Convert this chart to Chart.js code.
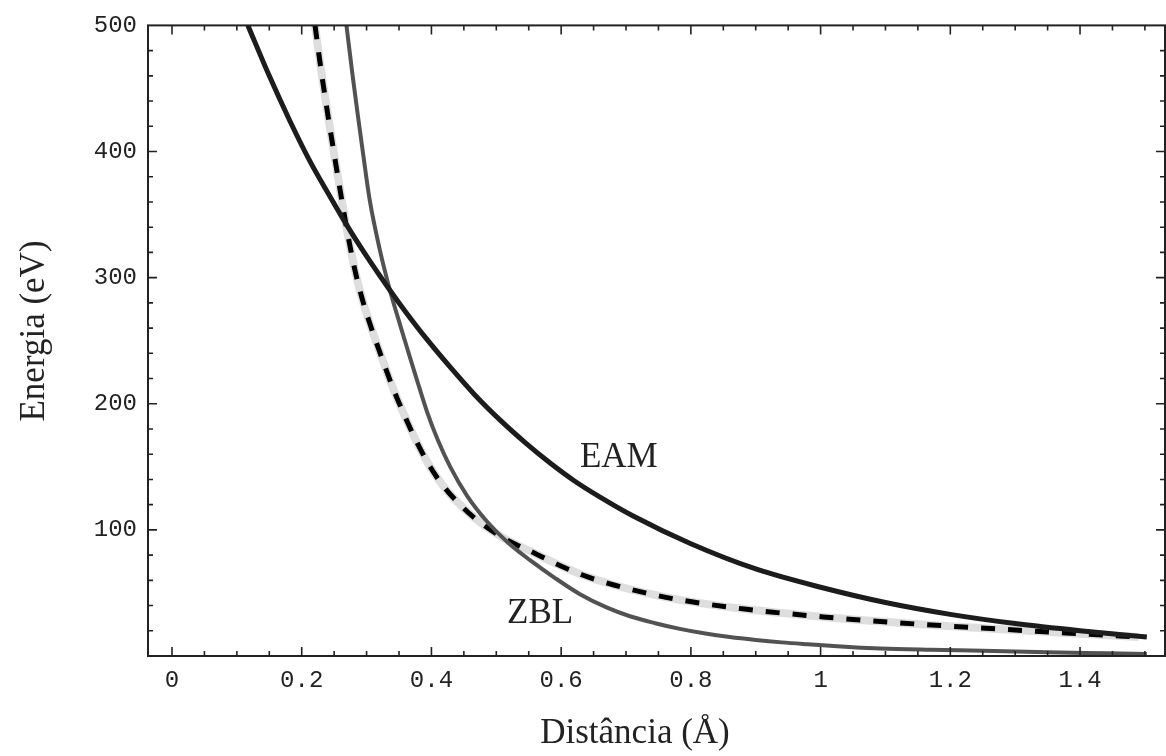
<!DOCTYPE html>
<html>
<head>
<meta charset="utf-8">
<script src="https://cdn.jsdelivr.net/npm/chart.js@4.4.1/dist/chart.umd.min.js"></script>
<style>
  html, body { margin: 0; padding: 0; background: #fff; }
  #wrap { width: 1166px; height: 756px; }
</style>
</head>
<body>
<div id="wrap"><canvas id="grafico"></canvas></div>
<script>
// valores
const eamX = [0.117, 0.15, 0.182, 0.213, 0.244, 0.269, 0.3, 0.336, 0.36, 0.39, 0.429, 0.467, 0.506, 0.545, 0.583, 0.62, 0.66, 0.711, 0.8, 0.9, 1.0, 1.1, 1.2, 1.3, 1.4, 1.503];
const eamY = [500, 460, 424, 392, 364, 342, 317, 290, 273, 253, 229, 207, 187, 169, 153, 139, 126, 111, 89, 69, 54.5, 42.4, 33, 25.7, 20, 15];

const zblX = [0.269, 0.278, 0.287, 0.296, 0.305, 0.32, 0.336, 0.352, 0.365, 0.377, 0.393, 0.41, 0.429, 0.455, 0.485, 0.52, 0.552, 0.59, 0.629, 0.67, 0.706, 0.745, 0.783, 0.82, 0.86, 0.9, 0.94, 0.98, 1.015, 1.05, 1.092, 1.17, 1.25, 1.35, 1.442, 1.503];
const zblY = [500, 462, 427, 393, 361, 323, 290, 262, 240, 220, 194, 171, 150, 127, 107, 89, 76, 62, 49, 38.5, 31.5, 26, 21.5, 18, 15, 12.7, 10.8, 9.3, 8.1, 7, 6, 5, 4.2, 3, 2.1, 1.5];

const ajusteX = [0.2205, 0.23, 0.24, 0.25, 0.26, 0.269, 0.282, 0.295, 0.308, 0.321, 0.341, 0.36, 0.377, 0.398, 0.418, 0.45, 0.48, 0.513, 0.557, 0.593, 0.634, 0.68, 0.73, 0.783, 0.886, 1.004, 1.05, 1.158, 1.272, 1.385, 1.49];
const ajusteY = [500, 464, 430, 398, 367, 340, 306, 280, 259, 240, 212, 189, 170, 150, 135, 117, 104, 93, 82, 73, 64, 56.5, 50, 44.5, 37, 31, 29, 25, 21.5, 18, 15];

const xTicks = [0, 0.2, 0.4, 0.6, 0.8, 1, 1.2, 1.4];
const yTicks = [100, 200, 300, 400, 500];

const rotulos = ['EAM', 'ZBL'];
const rotuloX = [0.629, 0.5166];
const rotuloY = [150, 26];

function pontos(xs, ys) {
    return xs.map((x, i) => ({ x: x, y: ys[i] }));
}

// marcas de escala para dentro nos quatro lados + moldura + textos
const moldura = {
    id: 'moldura',
    afterDraw(chart) {
        const ctx = chart.ctx;
        const a = chart.chartArea;
        const sx = chart.scales.x;
        const sy = chart.scales.y;
        ctx.save();
        ctx.strokeStyle = '#222';
        ctx.lineWidth = 2;
        ctx.strokeRect(a.left, a.top, a.right - a.left, a.bottom - a.top);

        ctx.lineWidth = 1.6;
        ctx.beginPath();
        for (let k = 0; k <= 30; k++) {
            const v = k * 0.05;
            const px = sx.getPixelForValue(v);
            const len = (k % 4 === 0) ? 9 : 5;
            ctx.moveTo(px, a.bottom); ctx.lineTo(px, a.bottom - len);
            ctx.moveTo(px, a.top); ctx.lineTo(px, a.top + len);
        }
        for (let k = 1; k < 25; k++) {
            const v = k * 20;
            const py = sy.getPixelForValue(v);
            const len = (k % 5 === 0) ? 9 : 5;
            ctx.moveTo(a.left, py); ctx.lineTo(a.left + len, py);
            ctx.moveTo(a.right, py); ctx.lineTo(a.right - len, py);
        }
        ctx.stroke();

        ctx.fillStyle = '#222';
        ctx.font = '35px "Liberation Serif", "DejaVu Serif", serif';
        ctx.textBaseline = 'alphabetic';
        ctx.textAlign = 'left';
        rotulos.forEach((t, i) => {
            ctx.fillText(t, sx.getPixelForValue(rotuloX[i]), sy.getPixelForValue(rotuloY[i]));
        });

        ctx.textAlign = 'center';
        ctx.fillText('Distância (Å)', 635, 743);
        ctx.translate(44, 331);
        ctx.rotate(-Math.PI / 2);
        ctx.fillText('Energia (eV)', 0, 0);
        ctx.restore();
    }
};

function linha(label, xs, ys, cor, largura, ordem, tracejado) {
    return {
        label: label,
        data: pontos(xs, ys),
        showLine: true,
        borderColor: cor,
        borderWidth: largura,
        borderDash: tracejado || [],
        pointRadius: 0,
        cubicInterpolationMode: 'monotone',
        order: ordem
    };
}

const ctx = document.getElementById('grafico').getContext('2d');
const myChart = new Chart(ctx, {
    type: 'scatter',
    data: {
        datasets: [
            linha('EAM', eamX, eamY, '#1c1c1c', 5, 1),
            linha('ZBL', zblX, zblY, '#525252', 4, 2),
            linha('ajuste', ajusteX, ajusteY, '#000', 5, 3, [14, 13]),
            linha('ajuste fundo', ajusteX, ajusteY, '#dedede', 8, 4)
        ]
    },
    options: {
        responsive: true,
        maintainAspectRatio: false,
        animation: false,
        layout: { padding: { left: 0, top: 24, right: 1, bottom: 0 } },
        plugins: {
            legend: { display: false },
            tooltip: { enabled: false }
        },
        scales: {
            x: {
                type: 'linear',
                min: -0.037,
                max: 1.531,
                grid: { display: false, drawTicks: false },
                border: { display: false },
                afterFit: function (scale) { scale.height = 100; },
                afterBuildTicks: function (scale) {
                    scale.ticks = xTicks.map(v => ({ value: v }));
                },
                ticks: {
                    color: '#222',
                    padding: 10,
                    maxRotation: 0,
                    autoSkip: false,
                    font: { family: '"Liberation Mono", "DejaVu Sans Mono", monospace', size: 24 },
                    callback: function (v) { return String(v); }
                }
            },
            y: {
                type: 'linear',
                min: 0,
                max: 500,
                grid: { display: false, drawTicks: false },
                border: { display: false },
                afterFit: function (scale) { scale.width = 148; },
                afterBuildTicks: function (scale) {
                    scale.ticks = yTicks.map(v => ({ value: v }));
                },
                ticks: {
                    color: '#222',
                    padding: 11,
                    autoSkip: false,
                    font: { family: '"Liberation Mono", "DejaVu Sans Mono", monospace', size: 24 },
                    callback: function (v) { return String(v); }
                }
            }
        }
    },
    plugins: [moldura]
});
</script>
</body>
</html>
